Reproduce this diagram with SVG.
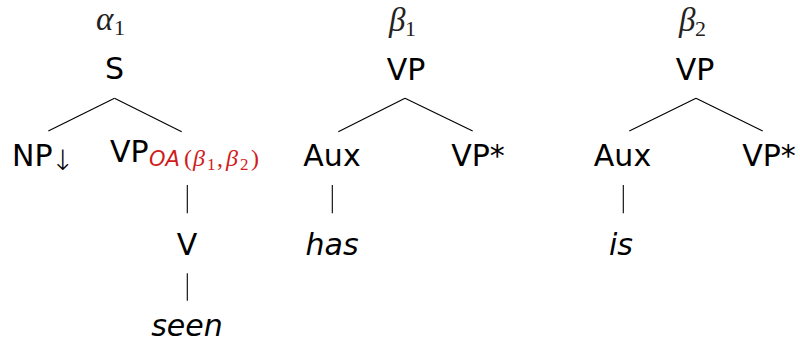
<svg xmlns="http://www.w3.org/2000/svg" width="800" height="342" viewBox="0 0 800 342">
<style>
.lbl{font-family:"DejaVu Sans",sans-serif;font-size:30px;fill:#000}
.it{font-style:italic}
.m{font-family:"Liberation Serif",serif;font-size:33px;font-style:italic;fill:#222}
.ms{font-family:"Liberation Serif",serif;font-size:22px;font-style:normal}
.red{fill:#d01c1c}
.e{stroke:#000;stroke-width:1.1;fill:none}
</style>
<rect width="800" height="342" fill="#fff"/>
<g id="connectors">
<line class="e" x1="114.5" y1="98.3" x2="48.3" y2="131"/>
<line class="e" x1="114.5" y1="98.3" x2="181.7" y2="131.7"/>
<line class="e" x1="187.3" y1="185" x2="187.3" y2="213.3"/>
<line class="e" x1="187.3" y1="273.3" x2="187.3" y2="300.7"/>
<line class="e" x1="405" y1="98.3" x2="338.3" y2="131.7"/>
<line class="e" x1="405" y1="98.3" x2="472.7" y2="131"/>
<line class="e" x1="332.3" y1="185" x2="332.3" y2="213.3"/>
<line class="e" x1="696" y1="98.3" x2="629.3" y2="131"/>
<line class="e" x1="696" y1="98.3" x2="762.7" y2="131"/>
<line class="e" x1="623.3" y1="185" x2="623.3" y2="213.3"/>
</g>
<g id="alpha1"><text class="m" x="96" y="30">α<tspan class="ms" x="114" y="35">1</tspan></text></g>
<g id="beta1"><text class="m" x="389" y="31">β<tspan class="ms" x="405" y="36">1</tspan></text></g>
<g id="beta2"><text class="m" x="679" y="31">β<tspan class="ms" x="695" y="36">2</tspan></text></g>
<g id="S"><text class="lbl" x="114.5" y="79" text-anchor="middle">S</text></g>
<g id="NP"><text class="lbl" x="12" y="166">NP</text><text x="51" y="170" font-family="DejaVu Sans,sans-serif" font-weight="200" font-size="28" fill="#000">↓</text></g>
<g id="VP_OA">
<text class="lbl" x="110" y="162">VP</text>
<text class="red" font-family="DejaVu Sans,sans-serif" font-size="21" font-style="italic" x="149" y="166">OA</text>
<text class="red" font-family="Liberation Serif,serif" font-size="24" y="166"><tspan x="184">(</tspan><tspan x="193" font-style="italic">β</tspan><tspan x="207" y="170" font-size="17">1</tspan><tspan x="217" y="166">,</tspan><tspan x="226" font-style="italic">β</tspan><tspan x="240" y="170" font-size="17">2</tspan><tspan x="251" y="166">)</tspan></text>
</g>
<g id="V"><text class="lbl" x="187" y="255" text-anchor="middle">V</text></g>
<g id="seen"><text class="lbl it" x="187" y="336" text-anchor="middle">seen</text></g>
<g id="VP_b1"><text class="lbl" x="406" y="80" text-anchor="middle">VP</text></g>
<g id="Aux_b1"><text class="lbl" x="332" y="166" text-anchor="middle">Aux</text></g>
<g id="VPstar_b1"><text class="lbl" x="478" y="166" text-anchor="middle">VP*</text></g>
<g id="has"><text class="lbl it" x="332" y="255" text-anchor="middle">has</text></g>
<g id="VP_b2"><text class="lbl" x="695" y="80" text-anchor="middle">VP</text></g>
<g id="Aux_b2"><text class="lbl" x="622.5" y="166" text-anchor="middle">Aux</text></g>
<g id="VPstar_b2"><text class="lbl" x="769" y="166" text-anchor="middle">VP*</text></g>
<g id="is"><text class="lbl it" x="621" y="255" text-anchor="middle">is</text></g>
</svg>
